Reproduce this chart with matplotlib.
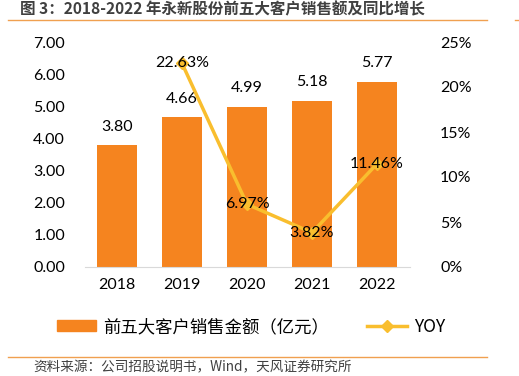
import matplotlib
matplotlib.use("Agg")
import matplotlib.pyplot as plt
from matplotlib.lines import Line2D
from matplotlib.patches import Patch
import numpy as np

years = ["2018", "2019", "2020", "2021", "2022"]
sales = [3.80, 4.66, 4.99, 5.18, 5.77]
yoy_years = ["2019", "2020", "2021", "2022"]
yoy = [22.63, 6.97, 3.82, 11.46]
left_ticks = [0, 1, 2, 3, 4, 5, 6, 7]
right_ticks = [0, 5, 10, 15, 20, 25]

CJK = ["Noto Sans CJK SC", "DejaVu Sans"]
NUM = ["Lato", "Noto Sans CJK SC", "DejaVu Sans"]
BAR_C = "#F5841F"
LINE_C = "#F9BE2E"

fig = plt.figure(figsize=(5.19, 3.76), dpi=100)
W, H = 519, 376
ax = fig.add_axes([84.5 / W, 1 - 267 / H, (409.5 - 84.5) / W, 225 / H])
ax2 = ax.twinx()

x = np.arange(len(years))
ax.bar(x, sales, width=0.62, color=BAR_C, zorder=2)
for xi, v in zip(x, sales):
    ax.annotate(f"{v:.2f}", (xi, v), xytext=(0, 8), textcoords="offset points",
                ha="center", va="bottom", fontsize=11.5, family=NUM, color="#000000")

ax.set_xlim(-0.5, len(years) - 0.5)
ax.set_ylim(0, 7)
ax.set_yticks(left_ticks)
ax.set_yticklabels([f"{t:.2f}" for t in left_ticks], family=NUM, fontsize=11.5)
ax.set_xticks(x)
ax.set_xticklabels(years, family=NUM, fontsize=11.5)
ax.tick_params(length=0, pad=14, axis="y")
ax.tick_params(length=0, pad=8, axis="x")
for s in ["top", "right", "left"]:
    ax.spines[s].set_visible(False)
ax.spines["bottom"].set_color("#D9D9D9")

xi_yoy = [years.index(y) for y in yoy_years]
ax2.plot(xi_yoy, yoy, color=LINE_C, lw=2.5, marker="D", ms=6, zorder=3)
for xi, v in zip(xi_yoy, yoy):
    ax2.text(xi, v, f"{v:.2f}%", ha="center", va="center", fontsize=11.5,
             family=NUM, color="#000000", zorder=4)
ax2.set_ylim(0, 25)
ax2.set_yticks(right_ticks)
ax2.set_yticklabels([f"{t}%" for t in right_ticks], family=NUM, fontsize=11.5)
ax2.tick_params(length=0, pad=22)
for s in ["top", "right", "left", "bottom"]:
    ax2.spines[s].set_visible(False)

# title
fig.text(20 / W, 1 - 9 / H, "图 3：2018-2022 年永新股份前五大客户销售额及同比增长",
         family=CJK, fontsize=11.2, fontweight="bold", color="#404040",
         ha="left", va="center")
fig.add_artist(Line2D([8 / W, 487 / W], [1 - 19.5 / H] * 2, color="#F0A050", lw=1))
fig.add_artist(Line2D([515 / W, 519 / W], [1 - 19.5 / H] * 2, color="#F0A050", lw=1))
fig.add_artist(Line2D([8 / W, 487 / W], [1 - 357 / H] * 2, color="#F0A050", lw=1))

# legend
handles = [Patch(color=BAR_C, label="前五大客户销售金额（亿元）"),
           Line2D([], [], color=LINE_C, lw=2.5, marker="D", ms=6, label="YOY")]
leg = fig.legend(handles=handles, loc="center", bbox_to_anchor=(251 / W, 1 - 327 / H),
                 ncol=2, frameon=False, prop={"family": CJK, "size": 12.5},
                 handlelength=2.3, handleheight=0.6, columnspacing=2.2, handletextpad=0.4)

fig.text(33 / W, 1 - 367 / H, "资料来源：公司招股说明书，Wind，天风证券研究所",
         family=CJK, fontsize=9.8, color="#404040", ha="left", va="center")

fig.savefig("out.png", dpi=100)
